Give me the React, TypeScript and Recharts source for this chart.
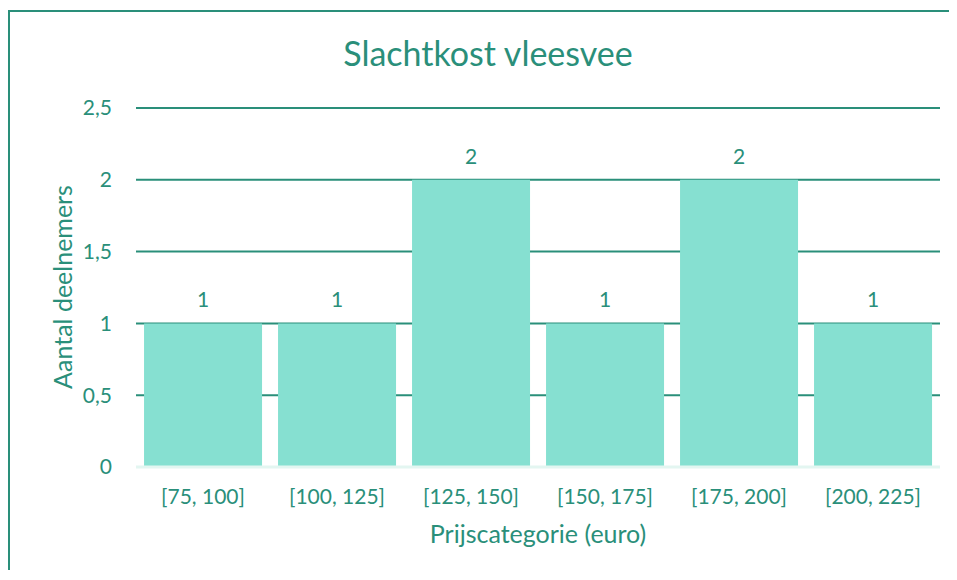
import React from 'react';
import { BarChart, Bar, XAxis, YAxis, CartesianGrid, LabelList, Label } from 'recharts';

const categories = ['[75, 100]', '[100, 125]', '[125, 150]', '[150, 175]', '[175, 200]', '[200, 225]'];
const participants = [1, 1, 2, 1, 2, 1];
const yTicks = [0, 0.5, 1, 1.5, 2, 2.5];

const data = categories.map((name, i) => ({ name, value: participants[i] }));

const TEAL = '#2a8f7a';
const BAR = '#86e0d1';
const FONT = 'Lato, "Open Sans", sans-serif';

const fmt = (v: number) => String(v).replace('.', ',');

export default function App() {
  return (
    <div style={{ position: 'relative', width: 941, height: 562, fontFamily: FONT }}>
      {/* chart frame: only top and left edges are visible in the crop */}
      <svg width={941} height={562} style={{ position: 'absolute', left: 0, top: 0 }}>
        <path d="M1,562 V3 H941" fill="none" stroke={TEAL} strokeWidth={2} />
      </svg>
      <div
        style={{
          position: 'absolute',
          left: 0,
          width: 960,
          top: 24,
          textAlign: 'center',
          color: TEAL,
          fontSize: 34,
          fontFamily: FONT,
        }}
      >
        Slachtkost vleesvee
      </div>
      <BarChart
        width={941}
        height={562}
        data={data}
        margin={{ top: 100, right: 9, left: 0, bottom: 0 }}
        barCategoryGap="6%"
        style={{ position: 'absolute', left: 0, top: 0 }}
      >
        <CartesianGrid vertical={false} stroke={TEAL} strokeWidth={2} />
        <XAxis
          dataKey="name"
          axisLine={{ stroke: '#e3f6f1', strokeWidth: 3 }}
          tickLine={false}
          tickSize={0}
          tickMargin={22}
          height={103}
          tick={{ fill: TEAL, fontSize: 21, fontFamily: FONT }}
        >
          <Label
            value="Prijscategorie (euro)"
            position="insideTop"
            offset={58}
            style={{ fill: TEAL, fontSize: 25, fontFamily: FONT }}
          />
        </XAxis>
        <YAxis
          width={128}
          domain={[0, 2.5]}
          ticks={yTicks}
          axisLine={false}
          tickLine={false}
          tickSize={0}
          tickMargin={24}
          tickFormatter={fmt}
          tick={{ fill: TEAL, fontSize: 21, fontFamily: FONT }}
        >
          <Label
            content={() => (
              <text
                x={54}
                y={279}
                transform="rotate(-90 54 279)"
                textAnchor="middle"
                dominantBaseline="central"
                fill={TEAL}
                fontSize={25}
                fontFamily={FONT}
              >
                Aantal deelnemers
              </text>
            )}
          />
        </YAxis>
        <Bar dataKey="value" fill={BAR} isAnimationActive={false}>
          <LabelList dataKey="value" position="top" offset={16} fill={TEAL} fontSize={21} fontFamily={FONT} />
        </Bar>
      </BarChart>
    </div>
  );
}
